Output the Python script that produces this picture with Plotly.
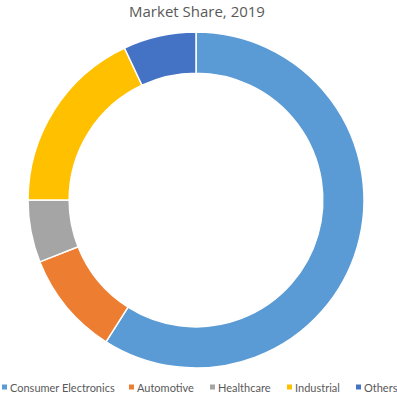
import plotly.graph_objects as go

categories = ["Consumer Electronics", "Automotive", "Healthcare", "Industrial", "Others"]
shares = [59, 10, 6, 18, 7]
colors = ["#5B9BD5", "#ED7D31", "#A5A5A5", "#FFC000", "#4472C4"]

W, H = 397, 395

def px(x):
    return x / W

def py(y):
    return 1 - y / H

# legend marker left edges (px) for the custom one-row legend
legend_x = [2, 129, 210, 287, 356]
legend_y = 387

fig = go.Figure(go.Pie(
    labels=categories,
    values=shares,
    hole=0.755,
    sort=False,
    direction="clockwise",
    rotation=0,
    textinfo="none",
    hoverinfo="label+percent",
    domain=dict(x=[px(28), px(364)], y=[py(368), py(32)]),
    marker=dict(colors=colors, line=dict(color="white", width=1.5)),
    showlegend=False,
))

for name, col, lx in zip(categories, colors, legend_x):
    fig.add_shape(type="rect", xref="paper", yref="paper",
                  x0=px(lx), x1=px(lx + 5),
                  y0=py(legend_y + 2.5), y1=py(legend_y - 2.5),
                  fillcolor=col, line=dict(width=0))
    fig.add_annotation(text=name, xref="paper", yref="paper",
                       x=px(lx + 8), y=py(legend_y),
                       xanchor="left", yanchor="middle", showarrow=False,
                       xshift=-2,
                       font=dict(family="Lato, sans-serif", size=11, color="#595959"))

fig.update_layout(
    width=W, height=H,
    margin=dict(l=0, r=0, t=0, b=0),
    paper_bgcolor="white",
    title=dict(text="Market Share, 2019", x=px(197), xanchor="center", y=py(11.5), yanchor="middle",
               font=dict(family="Open Sans, sans-serif", size=15, color="#595959")),
    showlegend=False,
)

fig.write_html("out.html", config={"displayModeBar": False},
               post_script="document.body.style.margin='0';")
